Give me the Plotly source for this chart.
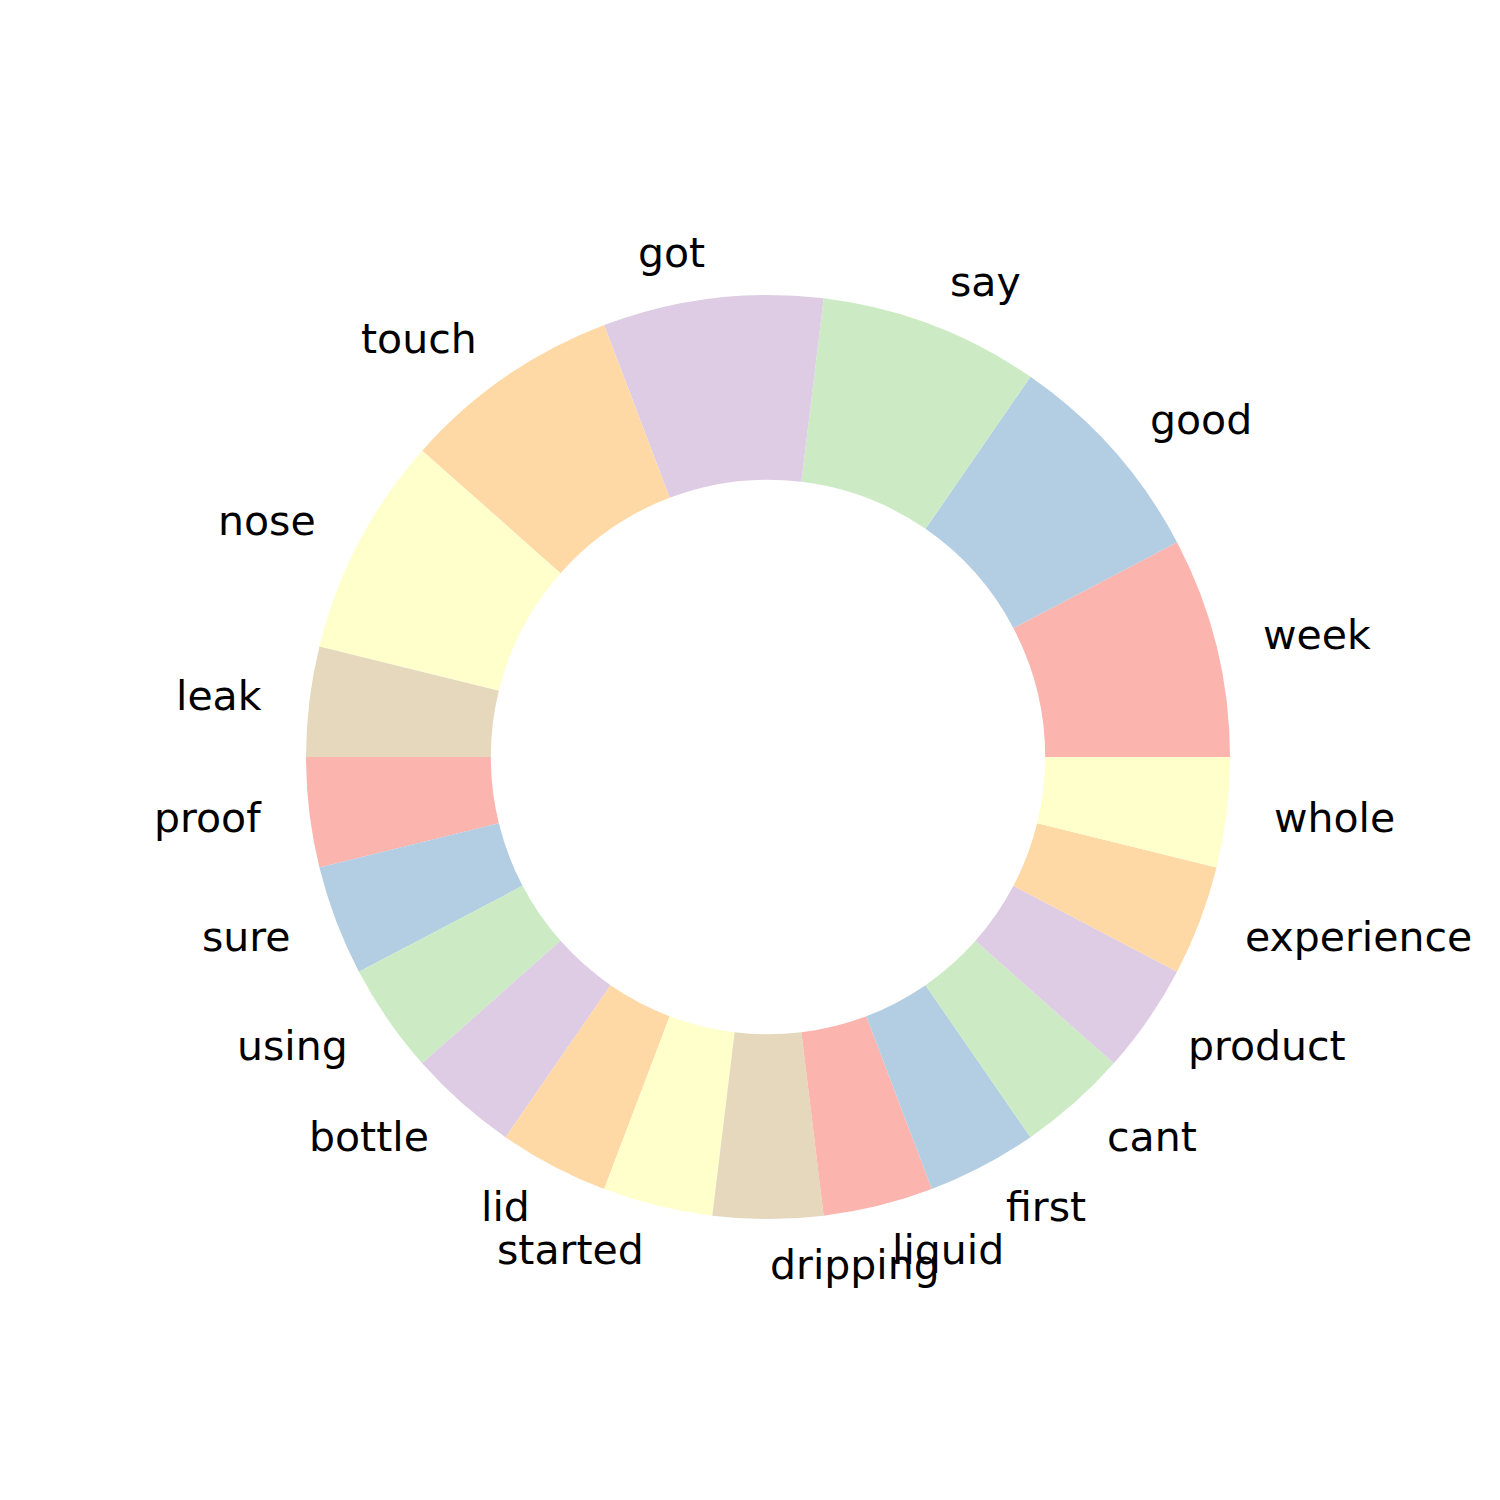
import numpy as np
import plotly.graph_objects as go

labels = ["week", "good", "say", "got", "touch", "nose", "leak", "proof", "sure",
          "using", "bottle", "lid", "started", "dripping", "liquid", "first", "cant",
          "product", "experience", "whole"]
values = [2, 2, 2, 2, 2, 2, 1, 1, 1, 1, 1, 1, 1, 1, 1, 1, 1, 1, 1, 1]
palette = ["#fbb4ae", "#b3cde3", "#ccebc5", "#decbe4", "#fed9a6", "#ffffcc", "#e5d8bd"]
colors = [palette[i % len(palette)] for i in range(len(labels))]

W = H = 1500
cx, cy_top = 768, 757          # pie centre in pixels (from top)
R = 462                         # outer radius in pixels
cy = H - cy_top

vals = np.array(values, dtype=float)
total = vals.sum()
# plotly's counterclockwise layout puts the first slice ending at 'rotation'; shift so it starts at 3 o'clock
rot = 90 - 360 * vals[0] / total

fig = go.Figure(go.Pie(
    labels=labels, values=values, sort=False, direction="counterclockwise",
    rotation=rot, hole=0.6, textinfo="none", hoverinfo="label+value",
    marker=dict(colors=colors, line=dict(width=0)),
    domain=dict(x=[(cx - R) / W, (cx + R) / W], y=[(cy - R) / H, (cy + R) / H]),
    showlegend=False,
))

cum = np.concatenate([[0], np.cumsum(vals)])
annotations = []
for i, lab in enumerate(labels):
    theta = np.pi * (cum[i] + cum[i + 1]) / total
    r = 1.1 * R
    x = cx + r * np.cos(theta)
    y = cy + r * np.sin(theta)
    xa = "left" if np.cos(theta) > -1e-9 else "right"
    annotations.append(dict(x=x / W, y=y / H, xref="paper", yref="paper", text=lab,
                            showarrow=False, xanchor=xa, yanchor="middle",
                            font=dict(family="DejaVu Sans", size=41, color="black")))

fig.update_layout(width=W, height=H, margin=dict(l=0, r=0, t=0, b=0),
                  paper_bgcolor="white", plot_bgcolor="white", annotations=annotations)
fig.write_html("out.html")
